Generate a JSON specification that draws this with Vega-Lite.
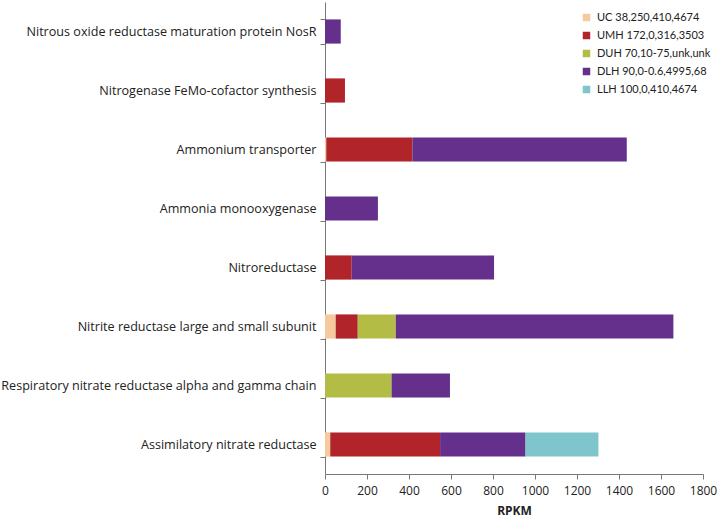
{
  "$schema": "https://vega.github.io/schema/vega-lite/v6.json",
  "width": 378,
  "height": 472,
  "autosize": {"type": "none"},
  "padding": {"left": 325, "top": 2, "right": 15, "bottom": 43},
  "background": "white",
  "config": {
    "view": {"stroke": null},
    "font": "Open Sans",
    "axis": {"labelFont": "Open Sans", "titleFont": "Open Sans", "labelColor": "#222", "titleColor": "#222", "grid": false},
    "legend": {"labelFont": "Lato"}
  },
  "data": {
    "values": [
      {"gene": "Nitrous oxide reductase maturation protein NosR", "site": "DLH 90,0-0.6,4995,68", "rpkm": 75},
      {"gene": "Nitrogenase FeMo-cofactor synthesis", "site": "UMH 172,0,316,3503", "rpkm": 95},
      {"gene": "Ammonium transporter", "site": "UC 38,250,410,4674", "rpkm": 6},
      {"gene": "Ammonium transporter", "site": "UMH 172,0,316,3503", "rpkm": 410},
      {"gene": "Ammonium transporter", "site": "DLH 90,0-0.6,4995,68", "rpkm": 1021},
      {"gene": "Ammonia monooxygenase", "site": "DLH 90,0-0.6,4995,68", "rpkm": 252},
      {"gene": "Nitroreductase", "site": "UMH 172,0,316,3503", "rpkm": 127},
      {"gene": "Nitroreductase", "site": "DLH 90,0-0.6,4995,68", "rpkm": 678},
      {"gene": "Nitrite reductase  large and small subunit", "site": "UC 38,250,410,4674", "rpkm": 51},
      {"gene": "Nitrite reductase  large and small subunit", "site": "UMH 172,0,316,3503", "rpkm": 105},
      {"gene": "Nitrite reductase  large and small subunit", "site": "DUH 70,10-75,unk,unk", "rpkm": 181},
      {"gene": "Nitrite reductase  large and small subunit", "site": "DLH 90,0-0.6,4995,68", "rpkm": 1322},
      {"gene": "Respiratory nitrate reductase alpha and gamma chain", "site": "DUH 70,10-75,unk,unk", "rpkm": 317},
      {"gene": "Respiratory nitrate reductase alpha and gamma chain", "site": "DLH 90,0-0.6,4995,68", "rpkm": 278},
      {"gene": "Assimilatory nitrate reductase", "site": "UC 38,250,410,4674", "rpkm": 25},
      {"gene": "Assimilatory nitrate reductase", "site": "UMH 172,0,316,3503", "rpkm": 523},
      {"gene": "Assimilatory nitrate reductase", "site": "DLH 90,0-0.6,4995,68", "rpkm": 407},
      {"gene": "Assimilatory nitrate reductase", "site": "LLH 100,0,410,4674", "rpkm": 347}
    ]
  },
  "transform": [
    {"calculate": "indexof(['UC 38,250,410,4674', 'UMH 172,0,316,3503', 'DUH 70,10-75,unk,unk', 'DLH 90,0-0.6,4995,68', 'LLH 100,0,410,4674'], datum.site)", "as": "siteOrder"}
  ],
  "mark": {"type": "bar"},
  "encoding": {
    "y": {
      "field": "gene",
      "type": "nominal",
      "sort": null,
      "scale": {"paddingInner": 0.59, "paddingOuter": 0.295},
      "axis": {
        "title": null,
        "tickBand": "extent",
        "domainColor": "#777",
        "tickColor": "#777",
        "tickSize": 5,
        "labelPadding": 4,
        "labelFontSize": 12.6,
        "labelLimit": 330
      }
    },
    "x": {
      "field": "rpkm",
      "type": "quantitative",
      "stack": "zero",
      "scale": {"domain": [0, 1800], "nice": false},
      "axis": {
        "title": "RPKM",
        "titleFontSize": 12,
        "titleFontWeight": "bold",
        "titlePadding": 9,
        "format": "d",
        "values": [0, 200, 400, 600, 800, 1000, 1200, 1400, 1600, 1800],
        "domainColor": "#777",
        "tickColor": "#777",
        "tickSize": 5,
        "labelFontSize": 12,
        "labelPadding": 6,
        "labelFlush": false
      }
    },
    "color": {
      "field": "site",
      "type": "nominal",
      "scale": {
        "domain": ["UC 38,250,410,4674", "UMH 172,0,316,3503", "DUH 70,10-75,unk,unk", "DLH 90,0-0.6,4995,68", "LLH 100,0,410,4674"],
        "range": ["#F7C99E", "#B0242A", "#B3BD45", "#652F8C", "#7FC5CC"]
      },
      "legend": {
        "title": null,
        "orient": "none",
        "legendX": 256,
        "legendY": 10,
        "symbolType": "square",
        "symbolSize": 56,
        "symbolStrokeWidth": 0,
        "labelFontSize": 11,
        "labelColor": "#222",
        "labelLimit": 200,
        "rowPadding": 6,
        "labelOffset": 5
      }
    },
    "order": {"field": "siteOrder", "type": "quantitative", "sort": "ascending"}
  }
}
